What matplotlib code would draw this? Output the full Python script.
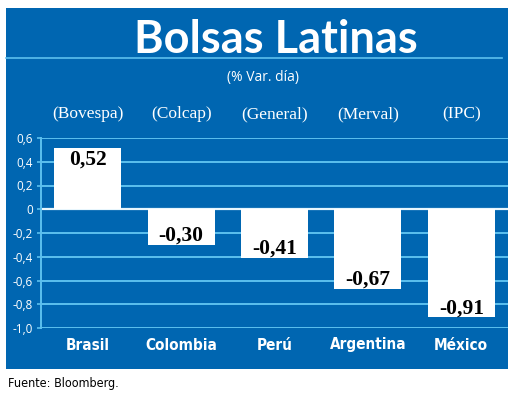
import matplotlib
matplotlib.use("Agg")
import matplotlib.pyplot as plt
from matplotlib.patches import Rectangle
from matplotlib.lines import Line2D

# ---------------------------------------------------------------------------
# Data
# ---------------------------------------------------------------------------
paises = ["Brasil", "Colombia", "Perú", "Argentina", "México"]
indices = ["(Bovespa)", "(Colcap)", "(General)", "(Merval)", "(IPC)"]
valores = [0.52, -0.30, -0.41, -0.67, -0.91]
yticks = [0.6, 0.4, 0.2, 0.0, -0.2, -0.4, -0.6, -0.8, -1.0]
ytick_labels = ["0,6", "0,4", "0,2", "0", "-0,2", "-0,4", "-0,6", "-0,8", "-1,0"]

BLUE = "#0066b1"
LIGHT = "#5cc0ee"
W, H = 520, 405

SANS_N = ["DejaVu Sans"]
SERIF = ["Liberation Serif", "DejaVu Serif"]


def fx(px):
    return px / W


def fy(py):
    return 1 - py / H


fig = plt.figure(figsize=(5.2, 4.05), dpi=100)
fig.patch.set_facecolor("white")

# blue panel + title rule
fig.patches.append(Rectangle((fx(6), fy(369)), fx(508) - fx(6), fy(8) - fy(369),
                             transform=fig.transFigure, facecolor=BLUE,
                             edgecolor="none", zorder=-5))
fig.lines.append(Line2D([fx(6), fx(502)], [fy(58), fy(58)], transform=fig.transFigure,
                        color=LIGHT, lw=1.2, zorder=-4))

fig.text(fx(276), fy(53), "Bolsas Latinas", ha="center", va="baseline",
         fontsize=32.5, fontweight="bold", color="white", family=["Lato", "DejaVu Sans"])
fig.text(fx(263), fy(77), "(% Var. día)", ha="center", va="center",
         fontsize=10, color="white", family=["Open Sans", "DejaVu Sans"])

# ---------------------------------------------------------------------------
# Chart
# ---------------------------------------------------------------------------
ax_top, ax_bot = 138, 328
ax = fig.add_axes([fx(41), fy(ax_bot), fx(508) - fx(41), fy(ax_top) - fy(ax_bot)])
ax.set_zorder(2)
ax.set_facecolor("none")
x = range(len(paises))
ax.bar(x, valores, width=0.716, color="white", zorder=3)
ax.set_xlim(-0.5, 4.5)
ax.set_ylim(-1.0, 0.6)

ax.set_yticks(yticks)
ax.set_yticklabels(ytick_labels)
ax.yaxis.grid(True, color=LIGHT, lw=1.4, zorder=1)
ax.axhline(0, color="#e8f6fd", lw=1.6, zorder=2)
ax.set_axisbelow(True)
ax.set_xticks([])
for side in ["top", "right", "bottom"]:
    ax.spines[side].set_visible(False)
ax.spines["left"].set_color(LIGHT)
ax.spines["left"].set_linewidth(1.4)
ax.tick_params(axis="y", colors=LIGHT, length=3, width=1.2, pad=3,
               labelcolor="white", labelsize=8.5)
for lbl in ax.get_yticklabels():
    lbl.set_family(["Open Sans", "DejaVu Sans"])

span = ax_bot - ax_top
head_y = (ax_bot - 114) / span
cat_y = (ax_bot - 345) / span
xt = ax.get_xaxis_transform()

for i, v in enumerate(valores):
    txt = f"{v:.2f}".replace(".", ",")
    off = -8.5 if v > 0 else 6.5
    ax.annotate(txt, (i, v), xytext=(0, off), textcoords="offset points",
                ha="center", va="center", fontsize=15.5, fontweight="bold",
                color="black", family=SERIF, zorder=4)
    ax.text(i, head_y, indices[i], transform=xt, clip_on=False,
            ha="center", va="center", fontsize=12.5, color="white", family=SERIF)
    ax.text(i, cat_y, paises[i], transform=xt, clip_on=False,
            ha="center", va="center", fontsize=11, fontweight="bold",
            fontstretch="condensed", color="white", family=SANS_N)

fig.text(fx(8), fy(383), "Fuente: Bloomberg.", ha="left", va="center",
         fontsize=9, fontstretch="condensed", color="black", family=SANS_N)

fig.savefig("out.png", dpi=100, facecolor=fig.get_facecolor())
